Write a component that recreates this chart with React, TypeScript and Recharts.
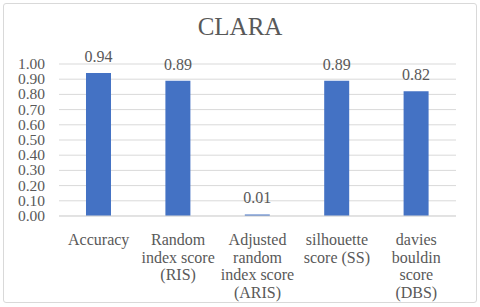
import { BarChart, Bar, XAxis, YAxis, CartesianGrid, LabelList } from 'recharts';

const categories = ['Accuracy', 'Random index score (RIS)', 'Adjusted random index score (ARIS)', 'silhouette score (SS)', 'davies bouldin score (DBS)'];
const labelLines = [
  ['Accuracy'],
  ['Random', 'index score', '(RIS)'],
  ['Adjusted', 'random', 'index score', '(ARIS)'],
  ['silhouette', 'score (SS)'],
  ['davies', 'bouldin', 'score', '(DBS)'],
];
const scores = [0.94, 0.89, 0.01, 0.89, 0.82];
const yTicks = [0, 0.1, 0.2, 0.3, 0.4, 0.5, 0.6, 0.7, 0.8, 0.9, 1.0];

const data = categories.map((name, i) => ({ name, value: scores[i] }));

const FONT = 'Liberation Serif';
const TEXT = '#595959';

function MultiLineTick({ x, y, index }: any) {
  const lines = labelLines[index] ?? [];
  return (
    <text x={x} y={y} textAnchor="middle" fill={TEXT} fontSize={16} fontFamily={FONT}>
      {lines.map((l, i) => (
        <tspan key={i} x={x} dy={i === 0 ? 21 : 17.6}>{l}</tspan>
      ))}
    </text>
  );
}

function YTick({ x, y, payload }: any) {
  return (
    <text x={x} y={y} dy={5} textAnchor="end" fill={TEXT} fontSize={15.5} fontFamily={FONT}>
      {Number(payload.value).toFixed(2)}
    </text>
  );
}

function TopLabel({ x, y, width, value }: any) {
  return (
    <text x={x + width / 2} y={y - 11} textAnchor="middle" fill={TEXT} fontSize={16} fontFamily={FONT}>
      {Number(value).toFixed(2)}
    </text>
  );
}

export default function App() {
  return (
    <div style={{ position: 'fixed', left: 0, top: 0, width: 480, height: 307, background: '#fff', fontFamily: FONT }}>
      <div style={{
        position: 'absolute', left: 3, top: 3, width: 472, height: 298,
        border: '1px solid #d9d9d9', borderRadius: 3,
      }} />
      <div style={{
        position: 'absolute', left: 0, top: 13, width: 480, textAlign: 'center',
        fontSize: 25, color: TEXT,
      }}>CLARA</div>
      <div style={{ position: 'absolute', left: 0, top: 0 }}>
        <BarChart width={480} height={307} data={data} margin={{ top: 64, right: 24, left: 3, bottom: 0 }} barCategoryGap="34%">
          <CartesianGrid vertical={false} stroke="#d9d9d9" />
          <XAxis dataKey="name" axisLine={{ stroke: '#d9d9d9' }} tickLine={false} height={91} interval={0} tick={<MultiLineTick />} />
          <YAxis
            domain={[0, 1]}
            ticks={yTicks}
            interval={0}
            width={56}
            axisLine={false}
            tickLine={false}
            tickSize={0}
            tickMargin={14}
            tick={<YTick />}
          />
          <Bar dataKey="value" fill="#4472C4" isAnimationActive={false}>
            <LabelList dataKey="value" content={<TopLabel />} />
          </Bar>
        </BarChart>
      </div>
    </div>
  );
}
